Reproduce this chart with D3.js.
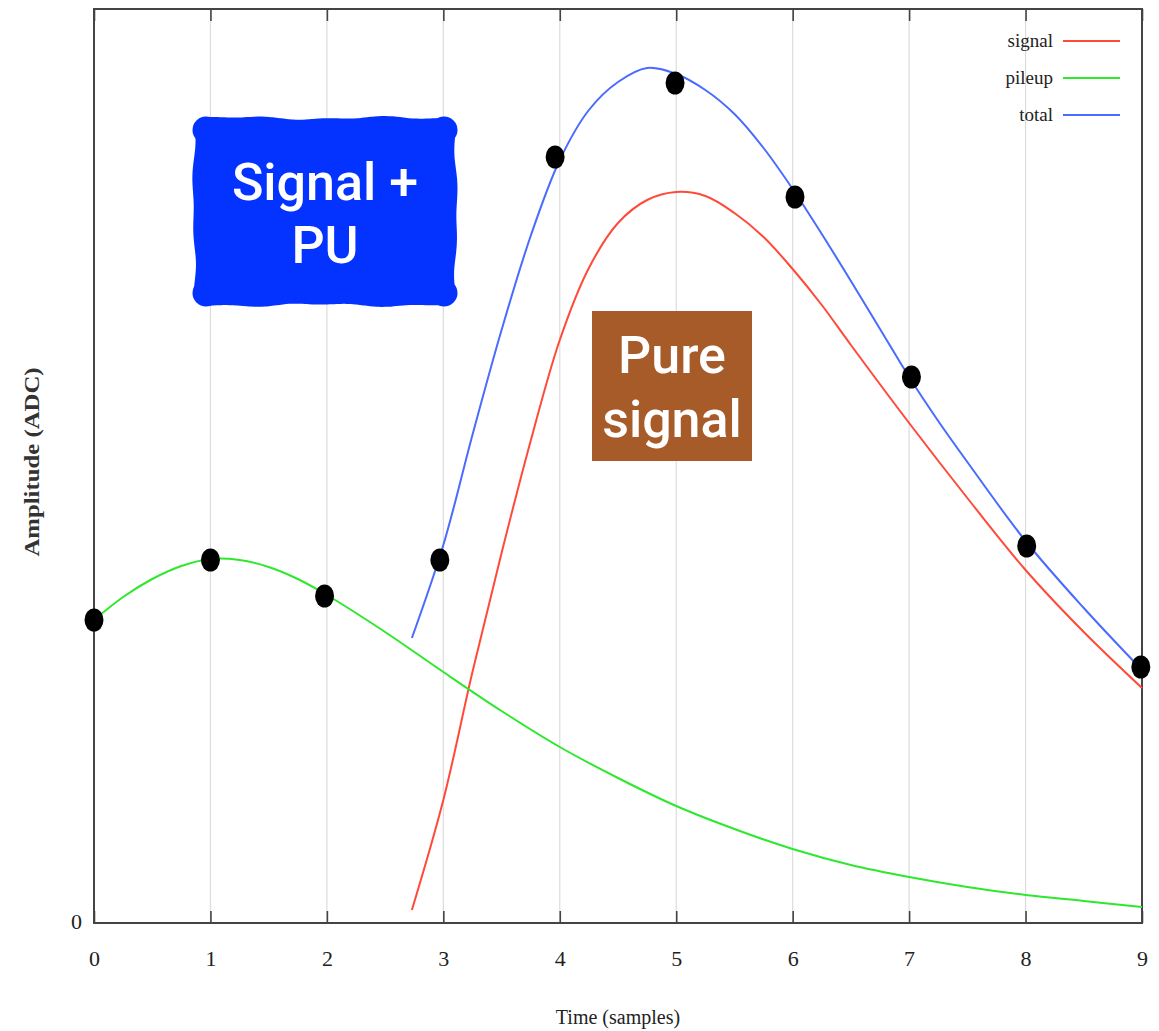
<!DOCTYPE html>
<html>
<head>
<meta charset="utf-8">
<script src="https://cdn.jsdelivr.net/npm/d3@7"></script>
<style>
  html, body { margin: 0; padding: 0; background: #fff; }
  svg { display: block; }
</style>
</head>
<body>
<svg id="chart" width="1159" height="1031"></svg>
<script>
// Pulse shapes in ADC counts versus time in sample units
const timeTicks = [0, 1, 2, 3, 4, 5, 6, 7, 8, 9];

const pileupT = [0, 0.25, 0.5, 0.75, 1, 1.25, 1.5, 1.75, 2, 2.5, 3, 3.5, 4, 4.5, 5, 5.5, 6, 6.5, 7, 7.5, 8, 8.5, 9];
const pileupA = [303, 326, 344, 357, 364, 363, 356, 344, 328, 291, 251, 212, 176, 145, 117, 94, 74, 58, 46, 36, 28, 22, 16];

const signalT = [2.73, 3.0, 3.25, 3.5, 3.75, 4.0, 4.25, 4.5, 4.75, 5.0, 5.25, 5.5, 5.75, 6.0, 6.25, 6.5, 7.0, 7.5, 8.0, 8.5, 9.0];
const signalA = [13, 123, 251, 370, 482, 583, 655, 700, 723, 731, 727, 710, 686, 654, 618, 578, 500, 425, 353, 291, 235];

const totalT = [2.73, 3.0, 3.25, 3.5, 3.75, 4.0, 4.25, 4.5, 4.75, 5.0, 5.25, 5.5, 5.75, 6.0, 6.25, 6.5, 6.75, 7.0, 7.25, 7.5, 8.0, 8.5, 9.0];
const totalA = [285, 378, 488, 593, 687, 763, 813, 841, 855, 849, 833, 809, 775, 734, 689, 642, 594, 546, 502, 461, 382, 315, 253];

// Digitised samples
const sampleT = [0, 1.0, 1.98, 2.97, 3.96, 4.99, 6.02, 7.02, 8.01, 8.99];
const sampleA = [303, 363, 327, 363, 766, 840, 726, 546, 377, 256];

const legendNames = ["signal", "pileup", "total"];
const legendColors = ["#ff4a3a", "#2ee82e", "#4a6bff"];

const svg = d3.select("#chart");
const M = { left: 94, right: 1142, top: 9, bottom: 923 };

const x = d3.scaleLinear().domain([0, 9]).range([M.left, M.right]);
const y = d3.scaleLinear().domain([0, 914]).range([M.bottom, M.top]);

const serif = "'Liberation Serif', 'DejaVu Serif', serif";

// vertical grid lines
svg.append("g")
  .selectAll("line")
  .data(timeTicks.slice(1, -1))
  .join("line")
  .attr("x1", d => x(d)).attr("x2", d => x(d))
  .attr("y1", M.top).attr("y2", M.bottom)
  .attr("stroke", "#dcdcdc").attr("stroke-width", 1.2);

// bottom axis with inward ticks
const xAxis = svg.append("g")
  .attr("transform", `translate(0,${M.bottom})`)
  .call(d3.axisBottom(x).tickValues(timeTicks).tickFormat(d3.format("d")).tickSizeInner(-12).tickSizeOuter(0).tickPadding(27));
xAxis.select(".domain").remove();
xAxis.selectAll(".tick line").attr("stroke", "#444").attr("stroke-width", 1.6);
xAxis.selectAll(".tick text").attr("font-family", serif).attr("font-size", 22).attr("fill", "#222");

// top axis ticks (no labels)
const xTop = svg.append("g")
  .attr("transform", `translate(0,${M.top})`)
  .call(d3.axisTop(x).tickValues(timeTicks).tickFormat("").tickSizeInner(-12).tickSizeOuter(0));
xTop.select(".domain").remove();
xTop.selectAll(".tick line").attr("stroke", "#444").attr("stroke-width", 1.6);

// left axis: only the zero label
const yAxis = svg.append("g")
  .attr("transform", `translate(${M.left},0)`)
  .call(d3.axisLeft(y).tickValues([0]).tickFormat(d3.format("d")).tickSize(0).tickPadding(12));
yAxis.select(".domain").remove();
yAxis.selectAll(".tick text").attr("font-family", serif).attr("font-size", 22).attr("fill", "#222").attr("dy", "0.25em");

// frame
svg.append("rect")
  .attr("x", M.left).attr("y", M.top)
  .attr("width", M.right - M.left).attr("height", M.bottom - M.top)
  .attr("fill", "none").attr("stroke", "#444").attr("stroke-width", 2);

// axis titles
svg.append("text")
  .attr("x", 618).attr("y", 1024)
  .attr("text-anchor", "middle")
  .attr("font-family", serif).attr("font-size", 20).attr("fill", "#222")
  .text("Time (samples)");

svg.append("text")
  .attr("transform", `translate(39,462) rotate(-90)`)
  .attr("text-anchor", "middle")
  .attr("font-family", serif).attr("font-size", 20).attr("font-weight", "bold").attr("fill", "#333")
  .attr("textLength", 189).attr("lengthAdjust", "spacingAndGlyphs")
  .text("Amplitude (ADC)");

// curves
const line = d3.line().x(d => x(d[0])).y(d => y(d[1])).curve(d3.curveCatmullRom.alpha(0.5));
const series = [
  { t: signalT, a: signalA, c: legendColors[0] },
  { t: pileupT, a: pileupA, c: legendColors[1] },
  { t: totalT, a: totalA, c: legendColors[2] }
];
svg.append("g")
  .selectAll("path")
  .data(series)
  .join("path")
  .attr("d", s => line(d3.zip(s.t, s.a)))
  .attr("fill", "none")
  .attr("stroke", s => s.c)
  .attr("stroke-width", 2);

// samples
svg.append("g")
  .selectAll("ellipse")
  .data(d3.zip(sampleT, sampleA))
  .join("ellipse")
  .attr("cx", d => x(d[0])).attr("cy", d => y(d[1]))
  .attr("rx", 9.5).attr("ry", 11.5)
  .attr("fill", "#000");

// legend
const lg = svg.append("g");
legendNames.forEach((name, i) => {
  const ly = 41 + i * 37;
  lg.append("text")
    .attr("x", 1053).attr("y", ly).attr("dy", "0.32em")
    .attr("text-anchor", "end")
    .attr("font-family", serif).attr("font-size", 19).attr("fill", "#222")
    .text(name);
  lg.append("line")
    .attr("x1", 1063).attr("x2", 1120).attr("y1", ly).attr("y2", ly)
    .attr("stroke", legendColors[i]).attr("stroke-width", 2);
});

// wobbly rounded box outline
function wobblyBox(x0, y0, x1, y1, amp) {
  const pts = [];
  const w = x1 - x0, h = y1 - y0;
  const per = 2 * (w + h);
  const n = 240;
  for (let i = 0; i < n; i++) {
    const s = i / n * per;
    let px, py, nx, ny;
    if (s < w) { px = x0 + s; py = y0; nx = 0; ny = -1; }
    else if (s < w + h) { px = x1; py = y0 + (s - w); nx = 1; ny = 0; }
    else if (s < 2 * w + h) { px = x1 - (s - w - h); py = y1; nx = 0; ny = 1; }
    else { px = x0; py = y1 - (s - 2 * w - h); nx = -1; ny = 0; }
    const off = amp * (Math.sin(s / 23) * 0.6 + Math.sin(s / 9.5 + 1.3) * 0.4);
    pts.push([px + nx * off, py + ny * off]);
  }
  return d3.line().curve(d3.curveBasisClosed)(pts);
}

const boxBlue = "#0433ff";
const bb = { x0: 199, y0: 123, x1: 451, y1: 300 };
// rounded corners, bulging a touch past the edges
svg.append("g")
  .selectAll("circle")
  .data([[bb.x0 + 7, bb.y0 + 7], [bb.x1 - 7, bb.y0 + 7], [bb.x1 - 7, bb.y1 - 7], [bb.x0 + 7, bb.y1 - 7]])
  .join("circle")
  .attr("cx", d => d[0]).attr("cy", d => d[1]).attr("r", 13.5)
  .attr("fill", boxBlue);
svg.append("path")
  .attr("d", wobblyBox(bb.x0 + 4, bb.y0 + 4, bb.x1 - 4, bb.y1 - 4, 2.0))
  .attr("fill", boxBlue)
  .attr("stroke", boxBlue).attr("stroke-width", 18).attr("stroke-linejoin", "round");

const sans = "Roboto, 'Open Sans', sans-serif";
const blueText = svg.append("text")
  .attr("text-anchor", "middle").attr("font-family", sans).attr("font-size", 52)
  .attr("font-weight", 500).attr("fill", "#fff");
blueText.append("tspan").attr("x", 325).attr("y", 200).text("Signal +");
blueText.append("tspan").attr("x", 325).attr("y", 263).text("PU");

svg.append("rect")
  .attr("x", 592).attr("y", 311).attr("width", 160).attr("height", 150)
  .attr("fill", "#a65b28");
const brownText = svg.append("text")
  .attr("text-anchor", "middle").attr("font-family", sans).attr("font-size", 52)
  .attr("font-weight", 500).attr("fill", "#fff");
brownText.append("tspan").attr("x", 672).attr("y", 373).text("Pure");
brownText.append("tspan").attr("x", 672).attr("y", 437).text("signal");
</script>
</body>
</html>
